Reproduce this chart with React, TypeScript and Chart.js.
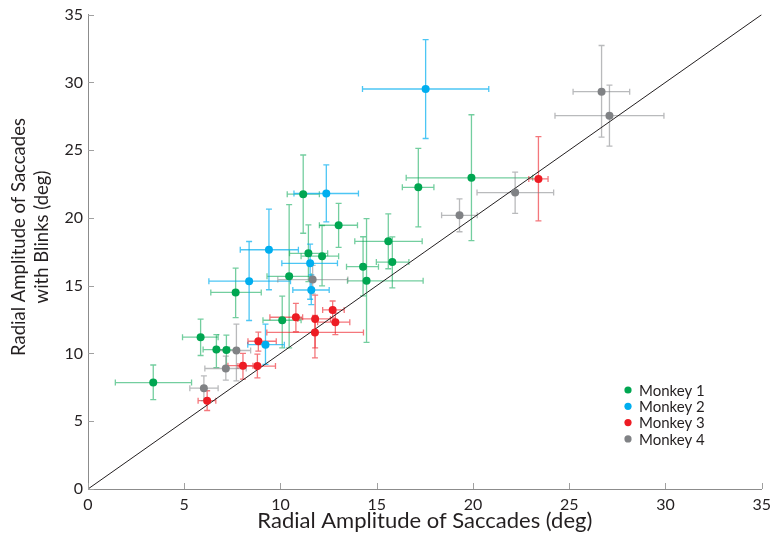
import React, { useEffect, useRef } from 'react';
import { Chart, registerables } from 'chart.js';

Chart.register(...registerables);

const FONT = 'Lato, "Open Sans", sans-serif';

const seriesNames = ['Monkey 1', 'Monkey 2', 'Monkey 3', 'Monkey 4'];
const seriesColors = ['#00a651', '#00aeef', '#ed1c24', '#808285'];
const errorColors = ['rgba(0,166,81,0.55)', 'rgba(0,174,239,0.7)', 'rgba(237,28,36,0.6)', 'rgba(128,130,133,0.55)'];

const xTicks = [0, 5, 10, 15, 20, 25, 30, 35];
const yTicks = [0, 5, 10, 15, 20, 25, 30, 35];
const xTitle = 'Radial Amplitude of Saccades (deg)';
const yTitle = ['Radial Amplitude of Saccades', 'with Blinks (deg)'];

// Monkey 1
const m1X = [3.39, 5.85, 6.67, 7.19, 7.67, 10.09, 10.45, 11.18, 11.45, 12.16, 13.02, 14.29, 14.47, 15.6, 15.81, 17.16, 19.92];
const m1Y = [7.85, 11.2, 10.29, 10.26, 14.5, 12.45, 15.69, 21.75, 17.39, 17.18, 19.46, 16.4, 15.36, 18.27, 16.74, 22.26, 22.96];
const m1XLo = [1.42, 4.91, 5.98, 6.6, 6.38, 9.09, 9.3, 10.35, 10.47, 11.07, 12.02, 13.43, 13.48, 13.86, 14.98, 16.33, 16.53];
const m1XHi = [5.38, 6.76, 7.35, 7.8, 9.0, 11.07, 11.6, 12.02, 12.45, 13.02, 14.0, 15.09, 17.41, 17.36, 16.67, 17.97, 23.1];
const m1YLo = [6.6, 9.85, 8.95, 8.95, 12.65, 10.41, 10.41, 18.87, 15.3, 14.99, 17.83, 14.25, 10.82, 16.25, 14.84, 19.34, 18.32];
const m1YHi = [9.15, 12.53, 11.39, 11.35, 16.3, 14.23, 20.98, 24.64, 19.49, 19.44, 21.07, 18.61, 19.95, 20.3, 18.6, 25.13, 27.61];

// Monkey 2
const m2X = [9.22, 8.37, 9.4, 11.54, 11.6, 12.38, 17.54];
const m2Y = [10.65, 15.33, 17.65, 16.65, 14.68, 21.8, 29.51];
const m2XLo = [8.3, 6.28, 7.91, 10.07, 10.64, 10.7, 14.26];
const m2XHi = [10.2, 10.52, 10.93, 12.96, 12.53, 14.05, 20.82];
const m2YLo = [9.2, 12.43, 14.7, 14.0, 13.6, 19.71, 25.86];
const m2YHi = [12.16, 18.26, 20.65, 18.07, 15.8, 23.91, 33.16];

// Monkey 3
const m3X = [6.19, 8.05, 8.8, 8.85, 10.8, 11.8, 11.79, 12.71, 12.85, 23.4];
const m3Y = [6.52, 9.1, 9.07, 10.9, 12.67, 12.55, 11.55, 13.21, 12.31, 22.88];
const m3XLo = [5.72, 7.27, 7.79, 8.31, 9.45, 10.9, 9.29, 12.19, 11.93, 22.9];
const m3XHi = [6.64, 8.57, 9.74, 9.78, 11.15, 12.6, 14.31, 13.31, 13.6, 23.9];
const m3YLo = [5.79, 8.1, 8.2, 10.17, 11.6, 10.41, 9.68, 12.6, 11.39, 19.78];
const m3YHi = [7.25, 10.0, 9.95, 11.58, 13.7, 14.3, 12.8, 13.87, 12.97, 26.0];

// Monkey 4
const m4X = [6.02, 7.16, 7.71, 11.67, 19.3, 22.19, 26.68, 27.09];
const m4Y = [7.44, 8.89, 10.22, 15.45, 20.19, 21.87, 29.31, 27.54];
const m4XLo = [5.29, 6.07, 6.67, 9.86, 18.37, 20.21, 25.2, 24.26];
const m4XHi = [6.76, 8.22, 8.45, 13.5, 20.22, 24.19, 28.14, 29.92];
const m4YLo = [6.52, 8.03, 7.98, 14.4, 18.98, 20.34, 25.96, 25.3];
const m4YHi = [8.34, 9.8, 12.16, 16.5, 21.41, 23.38, 32.72, 29.8];

const identityLine = [0, 35];

const allSeries = [
  [m1X, m1Y, m1XLo, m1XHi, m1YLo, m1YHi],
  [m2X, m2Y, m2XLo, m2XHi, m2YLo, m2YHi],
  [m3X, m3Y, m3XLo, m3XHi, m3YLo, m3YHi],
  [m4X, m4Y, m4XLo, m4XHi, m4YLo, m4YHi],
];

const errorBarPlugin = {
  id: 'errorBars',
  beforeDatasetsDraw(chart: any) {
    const { ctx } = chart;
    const xs = chart.scales.x;
    const ys = chart.scales.y;
    const cap = 3;
    chart.data.datasets.forEach((ds: any) => {
      if (!ds.errorColor) return;
      ctx.save();
      ctx.strokeStyle = ds.errorColor;
      ctx.lineWidth = 1.3;
      ds.data.forEach((p: any) => {
        const px = xs.getPixelForValue(p.x);
        const py = ys.getPixelForValue(p.y);
        const xl = xs.getPixelForValue(p.xLo);
        const xh = xs.getPixelForValue(p.xHi);
        const yl = ys.getPixelForValue(p.yLo);
        const yh = ys.getPixelForValue(p.yHi);
        ctx.beginPath();
        ctx.moveTo(xl, py); ctx.lineTo(xh, py);
        ctx.moveTo(xl, py - cap); ctx.lineTo(xl, py + cap);
        ctx.moveTo(xh, py - cap); ctx.lineTo(xh, py + cap);
        ctx.moveTo(px, yl); ctx.lineTo(px, yh);
        ctx.moveTo(px - cap, yl); ctx.lineTo(px + cap, yl);
        ctx.moveTo(px - cap, yh); ctx.lineTo(px + cap, yh);
        ctx.stroke();
      });
      ctx.restore();
    });
  },
};

const innerTicksPlugin = {
  id: 'innerTicks',
  afterDraw(chart: any) {
    const { ctx, chartArea } = chart;
    const xs = chart.scales.x;
    const ys = chart.scales.y;
    ctx.save();
    ctx.strokeStyle = '#a0a0a0';
    ctx.lineWidth = 1;
    ctx.beginPath();
    xs.ticks.forEach((t: any) => {
      const px = Math.round(xs.getPixelForValue(t.value)) + 0.5;
      ctx.moveTo(px, chartArea.bottom);
      ctx.lineTo(px, chartArea.bottom - 6);
    });
    ys.ticks.forEach((t: any) => {
      const py = Math.round(ys.getPixelForValue(t.value)) + 0.5;
      ctx.moveTo(chartArea.left, py);
      ctx.lineTo(chartArea.left + 6, py);
    });
    ctx.stroke();
    ctx.restore();
  },
};

const yTitlePlugin = {
  id: 'yTitle',
  afterDraw(chart: any) {
    const { ctx } = chart;
    ctx.save();
    ctx.translate(0, 237);
    ctx.rotate(-Math.PI / 2);
    ctx.font = `18.5px ${FONT}`;
    ctx.fillStyle = '#231f20';
    ctx.textAlign = 'center';
    ctx.textBaseline = 'middle';
    yTitle.forEach((line, i) => {
      ctx.fillText(line, 0, 19 + i * 23.5);
    });
    ctx.restore();
  },
};

const legendPlugin = {
  id: 'customLegend',
  afterDraw(chart: any) {
    const { ctx } = chart;
    ctx.save();
    ctx.font = `15px ${FONT}`;
    ctx.textBaseline = 'middle';
    ctx.textAlign = 'left';
    seriesNames.forEach((name, i) => {
      const y = 390 + i * 16.3;
      ctx.fillStyle = seriesColors[i];
      ctx.beginPath();
      ctx.arc(628, y, 3.6, 0, Math.PI * 2);
      ctx.fill();
      ctx.fillStyle = '#231f20';
      ctx.fillText(name, 639, y + 1);
    });
    ctx.restore();
  },
};

export default function App() {
  const canvasRef = useRef<HTMLCanvasElement | null>(null);

  useEffect(() => {
    document.body.style.margin = '0';
    const canvas = canvasRef.current;
    if (!canvas) return;

    const scatterSets = allSeries.map(([xv, yv, xlo, xhi, ylo, yhi], i) => ({
      type: 'scatter' as const,
      label: seriesNames[i],
      data: xv.map((v, j) => ({ x: v, y: yv[j], xLo: xlo[j], xHi: xhi[j], yLo: ylo[j], yHi: yhi[j] })),
      backgroundColor: seriesColors[i],
      borderWidth: 0,
      pointRadius: 4,
      pointHoverRadius: 4,
      errorColor: errorColors[i],
      order: 1,
    }));

    const chart = new Chart(canvas, {
      type: 'scatter',
      data: {
        datasets: [
          {
            type: 'line' as const,
            label: 'identity',
            data: identityLine.map((v) => ({ x: v, y: v })),
            borderColor: '#231f20',
            borderWidth: 1,
            pointRadius: 0,
            fill: false,
            order: 2,
          } as any,
          ...scatterSets,
        ],
      },
      options: {
        animation: false,
        responsive: true,
        maintainAspectRatio: false,
        layout: { padding: { top: 10, right: 13, left: 0, bottom: 0 } },
        plugins: { legend: { display: false }, tooltip: { enabled: false } },
        scales: {
          x: {
            type: 'linear',
            min: 0,
            max: 35,
            afterBuildTicks: (s: any) => { s.ticks = xTicks.map((v) => ({ value: v })); },
            ticks: { color: '#231f20', font: { family: FONT, size: 16 }, padding: 6, maxRotation: 0 },
            grid: { display: false, drawTicks: false },
            border: { display: true, color: '#8c8c8c', width: 1 },
            title: { display: true, text: xTitle, color: '#231f20', font: { family: FONT, size: 22 }, padding: { top: 0, bottom: 14 } },
            afterFit: (s: any) => { s.height = 59; },
          },
          y: {
            type: 'linear',
            min: 0,
            max: 35,
            afterBuildTicks: (s: any) => { s.ticks = yTicks.map((v) => ({ value: v })); },
            ticks: { color: '#231f20', font: { family: FONT, size: 16 }, padding: 5 },
            grid: { display: false, drawTicks: false },
            border: { display: true, color: '#8c8c8c', width: 1 },
            title: { display: false },
            afterFit: (s: any) => { s.width = 88; },
          },
        },
      } as any,
      plugins: [errorBarPlugin, innerTicksPlugin, yTitlePlugin, legendPlugin],
    });

    return () => chart.destroy();
  }, []);

  return (
    <div style={{ position: 'absolute', left: 0, top: 0, width: 777, height: 548 }}>
      <canvas ref={canvasRef} />
    </div>
  );
}
